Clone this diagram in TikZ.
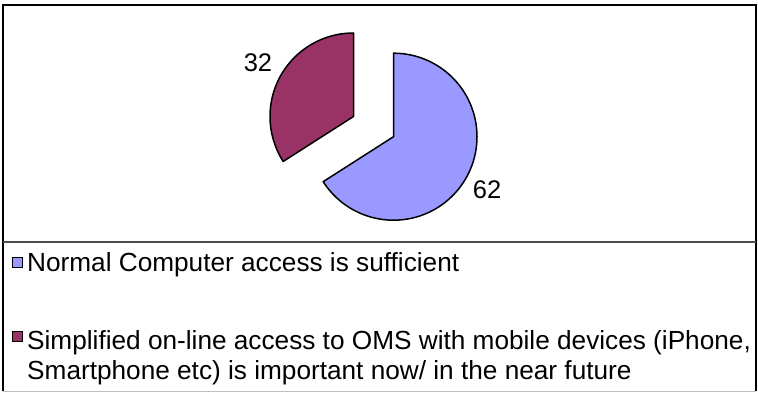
\documentclass[tikz,border=0pt]{standalone}
\usepackage{fontspec}
\setmainfont{Liberation Sans}
\definecolor{sliceblue}{HTML}{9999FF}
\definecolor{slicered}{HTML}{993366}
\begin{document}
\begin{tikzpicture}[x=1pt,y=1pt,
  slice/.style={draw=black,line width=1.5pt,line join=round},
  keybox/.style={draw=black,line width=1pt,minimum size=10pt,inner sep=0pt},
  keytext/.style={anchor=base west,inner sep=0pt,align=left,font=\fontsize{26.2}{30}\selectfont},
  pielabel/.style={inner sep=0pt,font=\fontsize{25.5}{30}\selectfont}]
\useasboundingbox (0,0) rectangle (758,394);
\draw[black!25,line width=1pt] (3,3) -- (756,3);
\draw[black,line width=2pt] (3,3) -- (3,389) -- (756,389) -- (756,3);
\draw[black!70,line width=1.5pt] (3,152) -- (756,152);
\coordinate (cb) at (393.5,257.3);
\coordinate (cr) at (353.5,277.5);
\draw[slice,fill=sliceblue] (cb) -- ++(90:83.5) arc[start angle=90,end angle=-147.4,radius=83.5] -- cycle;
\draw[slice,fill=slicered] (cr) -- ++(90:83.5) arc[start angle=90,end angle=212.6,radius=83.5] -- cycle;
\node[pielabel] (lab32) at (258,331) {32};
\node[pielabel] (lab62) at (487,204) {62};
\node[keybox,fill=sliceblue] (key1) at (17,131.5) {};
\node[keybox,fill=slicered] (key2) at (17,57.5) {};
\node[keytext] (txt1) at (27,122) {Normal Computer access is sufficient};
\node[keytext] (txt2) at (27,15) {Simplified on-line access to OMS with mobile devices (iPhone,\\Smartphone etc) is important now/ in the near future};
\end{tikzpicture}
\end{document}
